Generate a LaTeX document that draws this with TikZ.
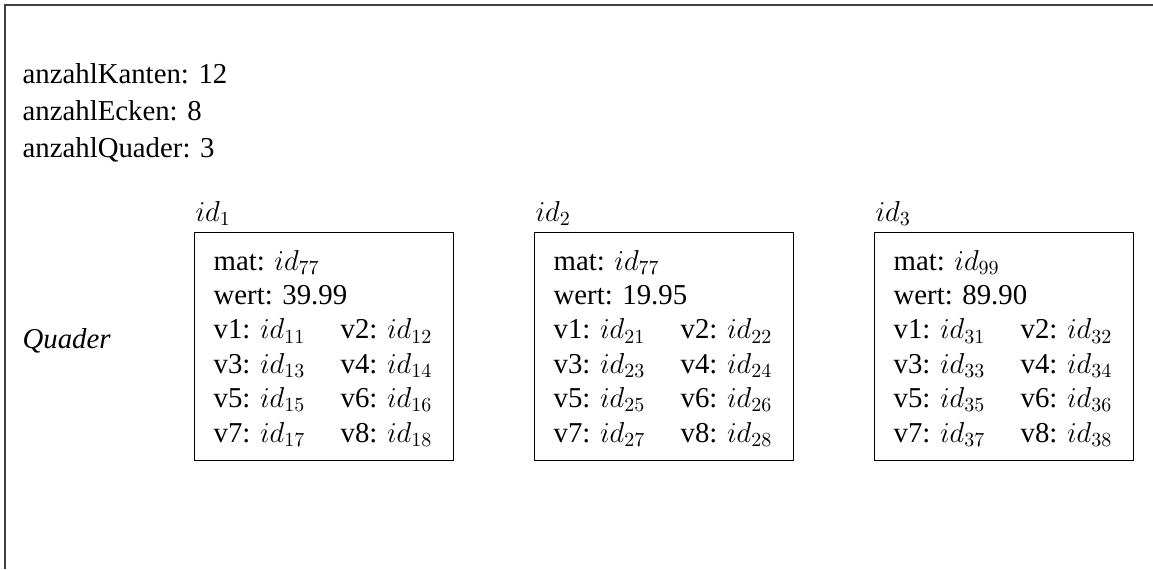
\documentclass[tikz,border=0pt]{standalone}
\usepackage{fontspec}
\setmainfont{Liberation Serif}

\tikzset{every picture/.style={line width=0.6pt}}
\tikzset{
  txt/.style={anchor=base west, inner sep=0pt, font=\fontsize{14.4}{17}\selectfont},
  quaderbox/.style={draw, anchor=north west, inner sep=0pt, minimum width=129.5pt, minimum height=114pt},
  frame/.style={draw=black!75, line width=1pt}
}

\begin{document}
\begin{tikzpicture}[x=0.5pt,y=0.5pt,yscale=-1,xscale=1]
\useasboundingbox (0,0) rectangle (1153,569);

%Frame (top and left edge)
\draw [frame] (1153,5) -- (5,5) -- (5,569) ;

% Text Node
\node [txt] (kanten) at (22,83) {anzahlKanten: 12};
% Text Node
\node [txt] (ecken) at (22,120) {anzahlEcken: 8};
% Text Node
\node [txt] (anzahlq) at (22,157) {anzahlQuader: 3};
% Text Node
\node [txt] (quader) at (22,348) {\itshape Quader};

%Quader boxes
\foreach \i/\x/\m/\w in {1/194/77/39.99, 2/534/77/19.95, 3/874/99/89.90}{
  \node [quaderbox] (q\i) at (\x,232) {};
  \node [txt] (id\i) at (\x+1,221) {$id_{\i}$};
  \node [txt] (mat\i) at (\x+19,270) {mat: $id_{\m}$};
  \node [txt] (wert\i) at (\x+19,304.4) {wert: \w};
  \foreach \r [evaluate=\r as \a using int(2*\r+1), evaluate=\r as \b using int(2*\r+2)] in {0,...,3}{
    \node [txt] (v\i-\a) at (\x+19,338.8+34.4*\r) {v\a: $id_{\i\a}$};
    \node [txt] (v\i-\b) at (\x+146,338.8+34.4*\r) {v\b: $id_{\i\b}$};
  }
}

\end{tikzpicture}
\end{document}
